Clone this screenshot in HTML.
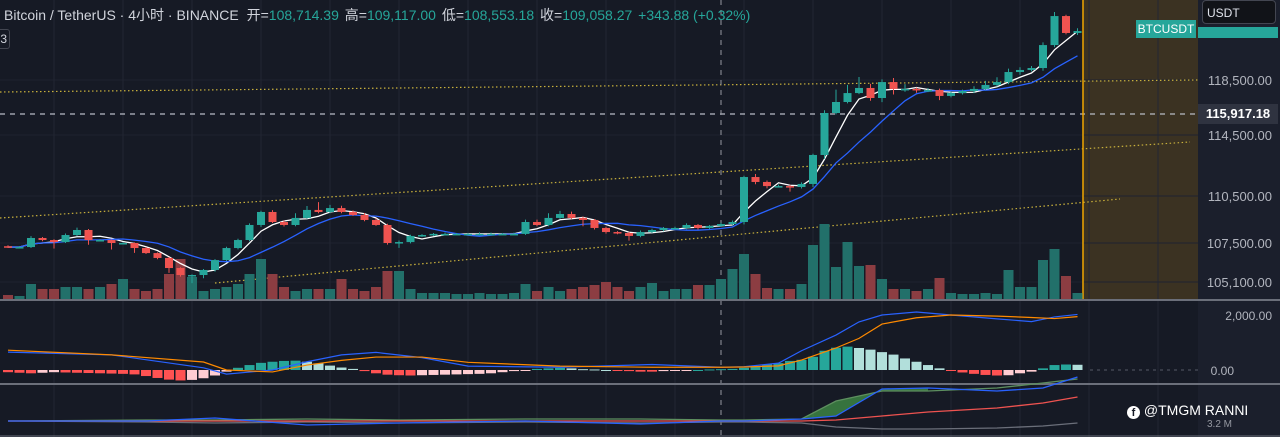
<!DOCTYPE html>
<html><head><meta charset="utf-8">
<style>
html,body{margin:0;padding:0;background:#161a25;overflow:hidden}
#wrap{position:relative;width:1280px;height:437px;font-family:"Liberation Sans","Noto Sans CJK SC",sans-serif}
svg{position:absolute;left:0;top:0}
</style></head>
<body>
<div id="wrap">
<svg id="chart" width="1280" height="437">
  <rect x="0" y="0" width="1280" height="437" fill="#161a25"/>
  <rect x="1083" y="0" width="115" height="300" fill="#3b3222"/>
  <rect x="1198" y="0" width="82" height="437" fill="#1b1f2c"/>
  <g id="grid"></g>
  <g id="draw">
    <line x1="0" y1="92" x2="1198" y2="80" stroke="#c9b13c" stroke-width="1.2" stroke-dasharray="1.5 2.5"/>
    <line x1="0" y1="218" x2="1190" y2="142" stroke="#c9b13c" stroke-width="1.2" stroke-dasharray="1.5 2.5"/>
    <line x1="215" y1="283" x2="1120" y2="199" stroke="#c9b13c" stroke-width="1.2" stroke-dasharray="1.5 2.5"/>
    <line x1="0" y1="114" x2="1196" y2="114" stroke="#b8bcc6" stroke-width="1.2" stroke-dasharray="5 5"/>
    <line x1="721" y1="0" x2="721" y2="437" stroke="#9598a1" stroke-width="1" stroke-dasharray="5 5"/>
    <line x1="1083" y1="0" x2="1083" y2="300" stroke="#f0a500" stroke-width="1.5"/>
  </g>
  <g id="vol"></g>
  <g id="ma"></g>
  <g id="candles"></g>
  <line x1="0" y1="300" x2="1280" y2="300" stroke="#6b6f7a" stroke-width="2"/>
  <line x1="0" y1="384" x2="1280" y2="384" stroke="#6b6f7a" stroke-width="2"/>
  <line x1="0" y1="436" x2="1280" y2="436" stroke="#6b6f7a" stroke-width="1"/>
  <g id="macd"></g>
  <g id="ind"></g>
  <g id="axis"></g>
</svg>
<div style="position:absolute;left:4px;top:5px;font-size:14px;color:#d1d4dc;white-space:nowrap">
<span>Bitcoin / TetherUS · 4小时 · BINANCE</span>
<span style="margin-left:4px">开=<span style="color:#26a69a">108,714.39</span></span>
<span style="margin-left:2px">高=<span style="color:#26a69a">109,117.00</span></span>
<span style="margin-left:2px">低=<span style="color:#26a69a">108,553.18</span></span>
<span style="margin-left:2px">收=<span style="color:#26a69a">109,058.27</span></span>
<span style="margin-left:2px;color:#26a69a">+343.88 (+0.32%)</span>
</div>
<div style="position:absolute;left:-6px;top:29px;width:12px;height:18px;border:1px solid #434651;border-radius:3px;color:#d1d4dc;font-size:12px;line-height:18px;text-align:right;padding-right:2px">3</div>
<div style="position:absolute;left:1136px;top:20px;width:60px;height:18px;background:#26a69a;color:#fff;font-size:12px;line-height:18px;text-align:center">BTCUSDT</div>
<div style="position:absolute;left:1198px;top:27px;width:80px;height:11px;background:#26a69a"></div>
<div style="position:absolute;left:1202px;top:0px;width:74px;height:24px;background:#111318;border:1px solid #434651;border-radius:4px;color:#e0e3eb;font-size:12px;line-height:24px;padding-left:4px;box-sizing:border-box">USDT</div>
<div style="position:absolute;left:1198px;top:104px;width:80px;height:20px;background:#2f3340;color:#fff;font-size:13px;font-weight:bold;line-height:20px;text-align:center">115,917.18</div>
<div style="position:absolute;left:1127px;top:402px;color:#fff;font-size:14px;white-space:nowrap"><span style="display:inline-block;width:13px;height:13px;border-radius:50%;background:#fff;color:#161a25;font-size:11px;font-weight:bold;text-align:center;line-height:14px;vertical-align:-1px">f</span> @TMGM RANNI</div>
<div style="position:absolute;left:1207px;top:419px;color:#9598a1;font-size:10px">3.2 M</div>
</div>
<script>
const closes=[107250,107250,107820,107690,107560,108010,108330,107690,107690,107500,107500,107190,106880,106580,105960,105530,105530,105840,106450,107190,107690,108650,109480,108840,108650,109100,109610,109480,109730,109480,109290,108970,108650,107500,107560,107950,108010,108080,108080,108080,108080,108080,108080,108080,108080,108840,108650,109100,109350,109100,108970,108460,108200,108140,107950,108200,108330,108460,108460,108650,108460,108590,108710,108840,111745,111420,111150,111150,111090,111290,113190,116100,116900,117550,117920,117190,118350,117850,117850,117770,117770,117340,117550,117700,117850,118140,118350,119080,119230,119370,121040,123150,121920,122060];
const wickUp=[60,40,120,60,50,100,150,60,50,40,50,40,60,40,60,50,40,60,60,80,80,100,80,120,100,300,250,500,200,150,100,120,100,80,100,80,60,60,80,60,60,100,80,60,80,150,150,300,200,150,80,60,80,60,60,100,80,60,80,100,60,60,80,100,80,200,100,100,80,100,80,200,900,600,800,300,200,300,350,100,150,100,100,100,200,300,350,250,200,150,200,300,100,200];
const wickDn=[60,40,60,80,400,60,60,300,60,400,80,300,60,80,300,100,500,200,100,60,80,80,120,60,100,80,60,80,80,80,60,80,60,100,300,80,60,60,60,60,80,60,60,60,60,60,80,80,60,80,400,100,100,80,300,80,60,80,100,80,100,60,60,80,150,150,150,80,300,100,200,250,100,100,80,200,300,400,200,200,150,300,100,100,150,100,100,150,200,100,200,150,100,150];
const volumes=[4,3,15,10,10,12,12,10,12,15,20,10,8,10,25,40,22,8,10,12,15,25,40,25,12,8,10,10,10,20,10,8,12,28,28,10,6,6,6,5,5,6,5,5,6,15,8,12,8,10,12,14,17,12,8,12,16,8,10,10,14,14,20,30,45,25,11,10,10,15,54,75,32,57,33,34,20,10,10,8,10,21,6,5,5,6,5,29,12,12,39,50,23,6];
const firstOpen=107300;
const priceTicks=[105100,107500,110500,114500,118500];
const priceTickLabels=["105,100.00","107,500.00","110,500.00","114,500.00","118,500.00"];
const macdIdx=[0,9,17,19,23,26,29,32,36,40,48,56,62,64,67,69,72,74,76,79,82,86,89,91,93];
const macdLine=[650,550,80,-150,0,300,550,640,450,140,100,200,100,120,250,700,1270,1750,2000,2110,2000,1860,1760,1930,2020];
const signalLine=[720,550,290,0,-70,180,350,470,470,280,140,100,100,110,150,360,800,1150,1670,1900,2000,1960,1910,1870,1940];
const histVals=[-80,-100,-120,-100,-80,-90,-100,-110,-120,-130,-140,-160,-220,-290,-350,-380,-360,-300,-200,-60,80,180,260,300,330,340,300,240,160,90,40,-40,-120,-170,-190,-200,-190,-180,-170,-160,-150,-140,-120,-80,-40,-10,40,60,80,60,30,20,0,-20,-40,-60,-60,-40,-20,-10,0,20,30,40,80,120,200,250,330,370,480,700,810,850,800,740,650,560,420,300,180,60,-20,-90,-140,-180,-200,-190,-120,-60,60,180,200,190];
const indIdx=[0,12,18,26,34,45,55,62,64,69,72,76,80,86,90,93];
const indBlue=[0,0,3,-4,-2,0,-3,0,0,2,5,32,33,30,33,44];
const indRed=[0,0,0,0,0,0,0,0,0,0,1,5,9,13,18,24];
const indGreen=[0,1,1,2,1,2,2,1,1,2,20,30,30,33,38,42];
const indGrey=[0,-1,-2,-1,-2,-1,-2,-1,-1,-2,-6,-8,-8,-7,-5,-2];
</script>
<script>
const NS='http://www.w3.org/2000/svg';
function mk(tag,attrs,parent){const e=document.createElementNS(NS,tag);for(const k in attrs)e.setAttribute(k,attrs[k]);parent.appendChild(e);return e;}
const tickPx=[282,243,196,135,80];
function yP(p){
  if(p<=priceTicks[0]) return tickPx[0]+(priceTicks[0]-p)*(tickPx[0]-tickPx[1])/(priceTicks[1]-priceTicks[0]);
  for(let i=0;i<priceTicks.length-1;i++){
    if(p<=priceTicks[i+1]) return tickPx[i]+(p-priceTicks[i])*(tickPx[i+1]-tickPx[i])/(priceTicks[i+1]-priceTicks[i]);
  }
  const n=priceTicks.length-1;
  return tickPx[n]-(p-priceTicks[n])*(tickPx[n-1]-tickPx[n])/(priceTicks[n]-priceTicks[n-1]);
}
function xI(i){return 8+i*11.5;}
function yMacd(v){return 370-v*55/2000;}
function yInd(v){return 421-v;}
const G='#26a69a',R='#ef5350';
const grid=document.getElementById('grid');
for(let x=54;x<1198;x+=69){const l=mk('line',{x1:x,y1:0,x2:x,y2:437,stroke:'#232734','stroke-width':1},grid);

}
priceTicks.forEach(p=>{const l=mk('line',{x1:0,y1:yP(p),x2:1198,y2:yP(p),stroke:'#1f2330','stroke-width':1},grid);

});
const ax=document.getElementById('axis');
priceTicks.forEach((p,i)=>{const t=mk('text',{x:1272,y:yP(p)+5,'text-anchor':'end','font-size':13,fill:'#b2b5be'},ax);t.textContent=priceTickLabels[i];

});
[[2000,'2,000.00'],[0,'0.00']].forEach(a=>{const t=mk('text',{x:a[0]?1272:1234,y:yMacd(a[0])+5,'text-anchor':'end','font-size':12,fill:'#b2b5be'},ax);t.textContent=a[1];

});
const cg=document.getElementById('candles'),vg=document.getElementById('vol');
closes.forEach((c,i)=>{
  const o=i?closes[i-1]:firstOpen;const up=c>=o;const col=up?G:R;const x=xI(i);
  const hi=Math.max(o,c)+wickUp[i],lo=Math.min(o,c)-wickDn[i];
  const w=mk('line',{x1:x,y1:yP(hi),x2:x,y2:yP(lo),stroke:col,'stroke-width':1},cg);
  
  
  const yt=yP(Math.max(o,c)),yb=yP(Math.min(o,c));
  const b=mk('rect',{x:x-4,y:yt,width:8,height:Math.max(1.5,yb-yt),fill:col},cg);
  
  
  const v=mk('rect',{x:x-5,y:299-volumes[i],width:10,height:volumes[i],fill:up?'#22706a':'#8c3d42'},vg);
  
  
});
function ma(n){return closes.map((c,i)=>{const s=closes.slice(Math.max(0,i-n+1),i+1);return s.reduce((a,b)=>a+b,0)/s.length;});}
const mg=document.getElementById('ma');
[[ma(4),'#ffffff'],[ma(9),'#2962ff']].forEach(m=>{
  const p=mk('polyline',{points:m[0].map((v,i)=>xI(i)+','+yP(v)).join(' '),fill:'none',stroke:m[1],'stroke-width':1.3},mg);
  
  
});
const mcg=document.getElementById('macd');
histVals.forEach((v,i)=>{
  const prev=i?histVals[i-1]:v;let col;
  if(v>=0)col=v>=prev?'#26a69a':'#b2dfdb';else col=v<=prev?'#ff5252':'#ffcdd2';
  const y0=yMacd(0),y1=yMacd(v);
  const r=mk('rect',{x:xI(i)-5,y:Math.min(y0,y1),width:10,height:Math.max(1,Math.abs(y1-y0)),fill:col},mcg);
  
  
});
const zl=mk('line',{x1:1090,y1:yMacd(0),x2:1198,y2:yMacd(0),stroke:'#555a66','stroke-dasharray':'3 4'},mcg);


[[macdLine,'#2962ff'],[signalLine,'#ff8a00']].forEach(s=>{
  const p=mk('polyline',{points:macdIdx.map((k,j)=>xI(k)+','+yMacd(s[0][j])).join(' '),fill:'none',stroke:s[1],'stroke-width':1.2},mcg);
  
  
});
const ig=document.getElementById('ind');
const fIdx=[9,10,11,12];
const fillPts=fIdx.map(j=>xI(indIdx[j])+','+yInd(indGreen[j])).concat(fIdx.slice().reverse().map(j=>xI(indIdx[j])+','+yInd(indBlue[j])));
const fp=mk('polygon',{points:fillPts.join(' '),fill:'#4caf50',opacity:0.6},ig);


[[indGrey,'#6b6f7a'],[indGreen,'#5d8f5f'],[indRed,'#ef5350'],[indBlue,'#2962ff']].forEach(s=>{
  const p=mk('polyline',{points:indIdx.map((k,j)=>xI(k)+','+yInd(s[0][j])).join(' '),fill:'none',stroke:s[1],'stroke-width':1.3},ig);
  
  
});
</script>
</body></html>
